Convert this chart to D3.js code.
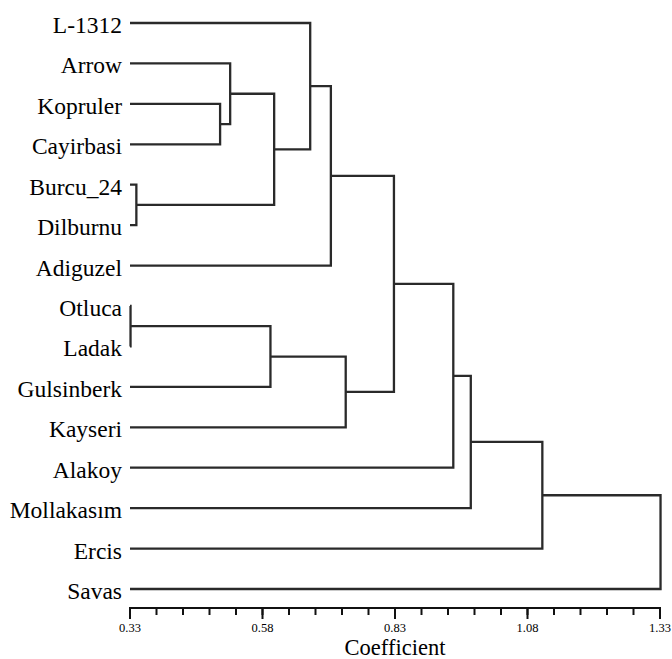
<!DOCTYPE html>
<html>
<head>
<meta charset="utf-8">
<script src="https://cdn.jsdelivr.net/npm/d3@7"></script>
<style>
  html, body { margin: 0; padding: 0; background: #fff; }
  svg { display: block; }
  svg text { font-family: "Liberation Serif", "DejaVu Serif", "Times New Roman", Times, serif; }
</style>
</head>
<body>
<svg id="chart" width="672" height="659"></svg>
<script>
// Leaf labels, top to bottom
const leaves = ["L-1312", "Arrow", "Kopruler", "Cayirbasi", "Burcu_24", "Dilburnu", "Adiguzel",
  "Otluca", "Ladak", "Gulsinberk", "Kayseri", "Alakoy", "Mollakasım", "Ercis", "Savas"];

// Merge steps (linkage): child A index, child B index, merge coefficient
// indices 0-14 are leaves, 15+ are clusters created in order
const mergeA = [7, 4, 2, 1, 15, 18, 0, 21, 19, 22, 24, 25, 26, 27];
const mergeB = [8, 5, 3, 17, 9, 16, 20, 6, 10, 23, 11, 12, 13, 14];
const mergeHeight = [0.331, 0.342, 0.500, 0.519, 0.595, 0.602, 0.670, 0.709, 0.737, 0.828, 0.940, 0.973, 1.108, 1.331];

const leafHeight = 0.33;
const tickValues = [0.33, 0.58, 0.83, 1.08, 1.33];
const tickLabels = ["0.33", "0.58", "0.83", "1.08", "1.33"];
const minorStep = 0.05;

const svg = d3.select("#chart");
const x = d3.scaleLinear().domain([0.33, 1.33]).range([130, 660]);
const y = d3.scalePoint().domain(leaves).range([23, 589]);

// Node positions
const nodes = leaves.map(name => ({ h: leafHeight, y: y(name) }));
mergeA.forEach((a, i) => {
  const b = mergeB[i];
  nodes.push({ h: mergeHeight[i], y: (nodes[a].y + nodes[b].y) / 2, a, b });
});

const stroke = "#2a2a2a";
const g = svg.append("g").attr("fill", "none").attr("stroke", stroke).attr("stroke-width", 2.3);

nodes.forEach(n => {
  if (n.a === undefined) return;
  const A = nodes[n.a], B = nodes[n.b];
  const px = x(n.h);
  const path = d3.path();
  path.moveTo(x(A.h), A.y);
  path.lineTo(px, A.y);
  path.lineTo(px, B.y);
  path.lineTo(x(B.h), B.y);
  g.append("path").attr("d", path.toString()).attr("stroke-linejoin", "miter").attr("stroke-linecap", "butt");
});

// Leaf labels
svg.append("g").selectAll("text").data(leaves).join("text")
  .attr("x", 122)
  .attr("y", d => y(d) + 10)
  .attr("text-anchor", "end")
  .style("font-size", "23.5px")
  .attr("fill", "#000")
  .text(d => d);

// Axis
const axisY = 608;
const minorTicks = d3.range(0.33, 1.33 + 1e-9, minorStep);
const ax = svg.append("g").attr("transform", `translate(0,${axisY})`);
ax.append("line").attr("x1", x(0.33) - 1).attr("x2", x(1.33) + 1).attr("y1", 0).attr("y2", 0)
  .attr("stroke", "#111").attr("stroke-width", 2);
ax.selectAll("line.minor").data(minorTicks).join("line").attr("class", "minor")
  .attr("x1", d => x(d)).attr("x2", d => x(d)).attr("y1", 0).attr("y2", 7)
  .attr("stroke", "#111").attr("stroke-width", 2);
ax.selectAll("line.major").data(tickValues).join("line").attr("class", "major")
  .attr("x1", d => x(d)).attr("x2", d => x(d)).attr("y1", 0).attr("y2", 11)
  .attr("stroke", "#111").attr("stroke-width", 2);
ax.selectAll("text").data(tickValues).join("text")
  .attr("x", d => x(d)).attr("y", 24)
  .attr("text-anchor", "middle")
  .style("font-size", "12.5px")
  .attr("fill", "#000")
  .text((d, i) => tickLabels[i]);

svg.append("text")
  .attr("x", (x(0.33) + x(1.33)) / 2).attr("y", 655)
  .attr("text-anchor", "middle")
  .style("font-size", "22.5px")
  .attr("fill", "#000")
  .text("Coefficient");
</script>
</body>
</html>
